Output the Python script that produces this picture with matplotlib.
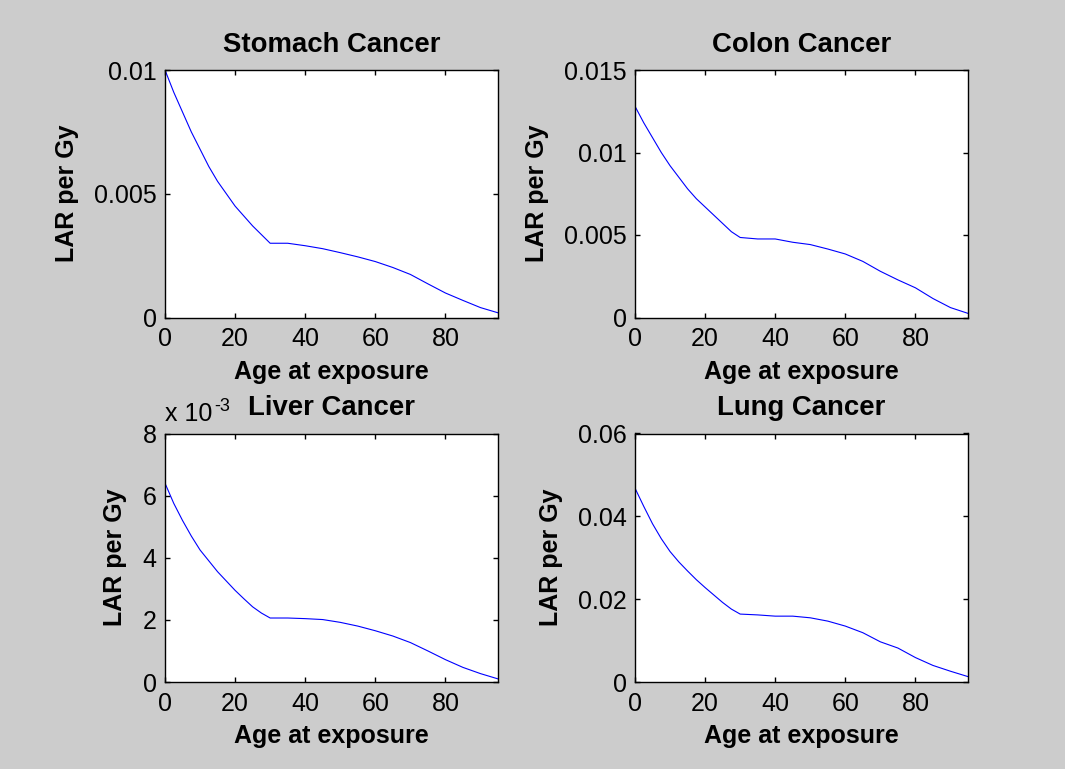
import numpy as np
import matplotlib
matplotlib.use("Agg")
import matplotlib.pyplot as plt

plt.rcParams['font.family'] = ['Liberation Sans', 'DejaVu Sans']

# Lifetime attributable risk per Gy vs age at exposure
age = [0, 2.5, 5, 7.5, 10, 12.5, 15, 17.5, 20, 22.5, 25, 27.5, 30, 35, 40, 45, 50, 55, 60, 65,
       70, 75, 80, 85, 90, 95]

stomach = [0.0100, 0.0091, 0.0083, 0.0075, 0.0068, 0.0061, 0.0055, 0.0050, 0.0045, 0.0041,
           0.0037, 0.00335, 0.0030, 0.0030, 0.0029, 0.00278, 0.00262, 0.00245, 0.00226, 0.00202,
           0.00174, 0.00136, 0.00099, 0.00069, 0.00040, 0.00019]
colon = [0.0128, 0.0118, 0.0109, 0.0100, 0.0092, 0.0085, 0.0078, 0.0072, 0.0067, 0.0062,
         0.0057, 0.0052, 0.00485, 0.00476, 0.00476, 0.00456, 0.00442, 0.00415, 0.00385, 0.00340,
         0.00280, 0.00228, 0.00180, 0.00115, 0.00060, 0.00025]
liver = [6.40e-3, 5.75e-3, 5.20e-3, 4.70e-3, 4.25e-3, 3.90e-3, 3.55e-3, 3.25e-3, 2.95e-3, 2.68e-3,
         2.42e-3, 2.22e-3, 2.06e-3, 2.06e-3, 2.04e-3, 2.01e-3, 1.92e-3, 1.80e-3, 1.65e-3, 1.48e-3,
         1.27e-3, 1.00e-3, 0.72e-3, 0.47e-3, 0.27e-3, 0.10e-3]
lung = [0.0468, 0.0424, 0.0382, 0.0346, 0.0315, 0.0290, 0.0268, 0.0247, 0.0228, 0.0210,
        0.0192, 0.0176, 0.0164, 0.0162, 0.0159, 0.0159, 0.0155, 0.0147, 0.0135, 0.0119,
        0.0097, 0.0082, 0.0059, 0.0040, 0.0026, 0.0013]

titles = ["Stomach Cancer", "Colon Cancer", "Liver Cancer", "Lung Cancer"]
xticks = [0, 20, 40, 60, 80]
yticks = [[0, 0.005, 0.01], [0, 0.005, 0.01, 0.015], [0, 2e-3, 4e-3, 6e-3, 8e-3], [0, 0.02, 0.04, 0.06]]
yticklabels = [["0", "0.005", "0.01"], ["0", "0.005", "0.01", "0.015"],
               ["0", "2", "4", "6", "8"], ["0", "0.02", "0.04", "0.06"]]

fig = plt.figure(figsize=(10.65, 7.69), dpi=100, facecolor='#cccccc')

W = 333 / 1065
positions = [
    [165 / 1065, 1 - 317.5 / 769, W, 247.5 / 769],
    [635 / 1065, 1 - 317.5 / 769, W, 247.5 / 769],
    [165 / 1065, 1 - 682 / 769, W, 248.5 / 769],
    [635 / 1065, 1 - 682 / 769, W, 248.5 / 769],
]

for i, series in enumerate([stomach, colon, liver, lung]):
    ax = fig.add_axes(positions[i])
    ax.plot(age, series, color='#0000ff', lw=0.8)
    ax.set_xlim(0, 95)
    ax.set_ylim(yticks[i][0], yticks[i][-1])
    ax.set_xticks(xticks)
    ax.set_yticks(yticks[i])
    ax.set_yticklabels(yticklabels[i])
    ax.tick_params(direction='in', length=3.5, width=1, top=True, right=True,
                   labelsize=18, pad=7)
    ax.tick_params(axis='y', pad=6)
    for sp in ax.spines.values():
        sp.set_linewidth(1.0)
    ax.set_title(titles[i], fontsize=19.8, fontweight='bold', pad=13)
    ax.set_xlabel("Age at exposure", fontsize=18, fontweight='bold', labelpad=6)
    ax.set_ylabel("LAR per Gy", fontsize=18, fontweight='bold', labelpad=11)
    if i == 2:
        # exponent label for the scaled y axis
        base = ax.text(0.0, 1.03, "x 10", transform=ax.transAxes,
                       fontsize=18, ha='left', va='bottom')
        ax.annotate("-3", xy=(1, 1), xycoords=base, xytext=(1, -3),
                    textcoords='offset points', fontsize=13, ha='left', va='center')

fig.savefig("out.png", dpi=100, facecolor=fig.get_facecolor())
